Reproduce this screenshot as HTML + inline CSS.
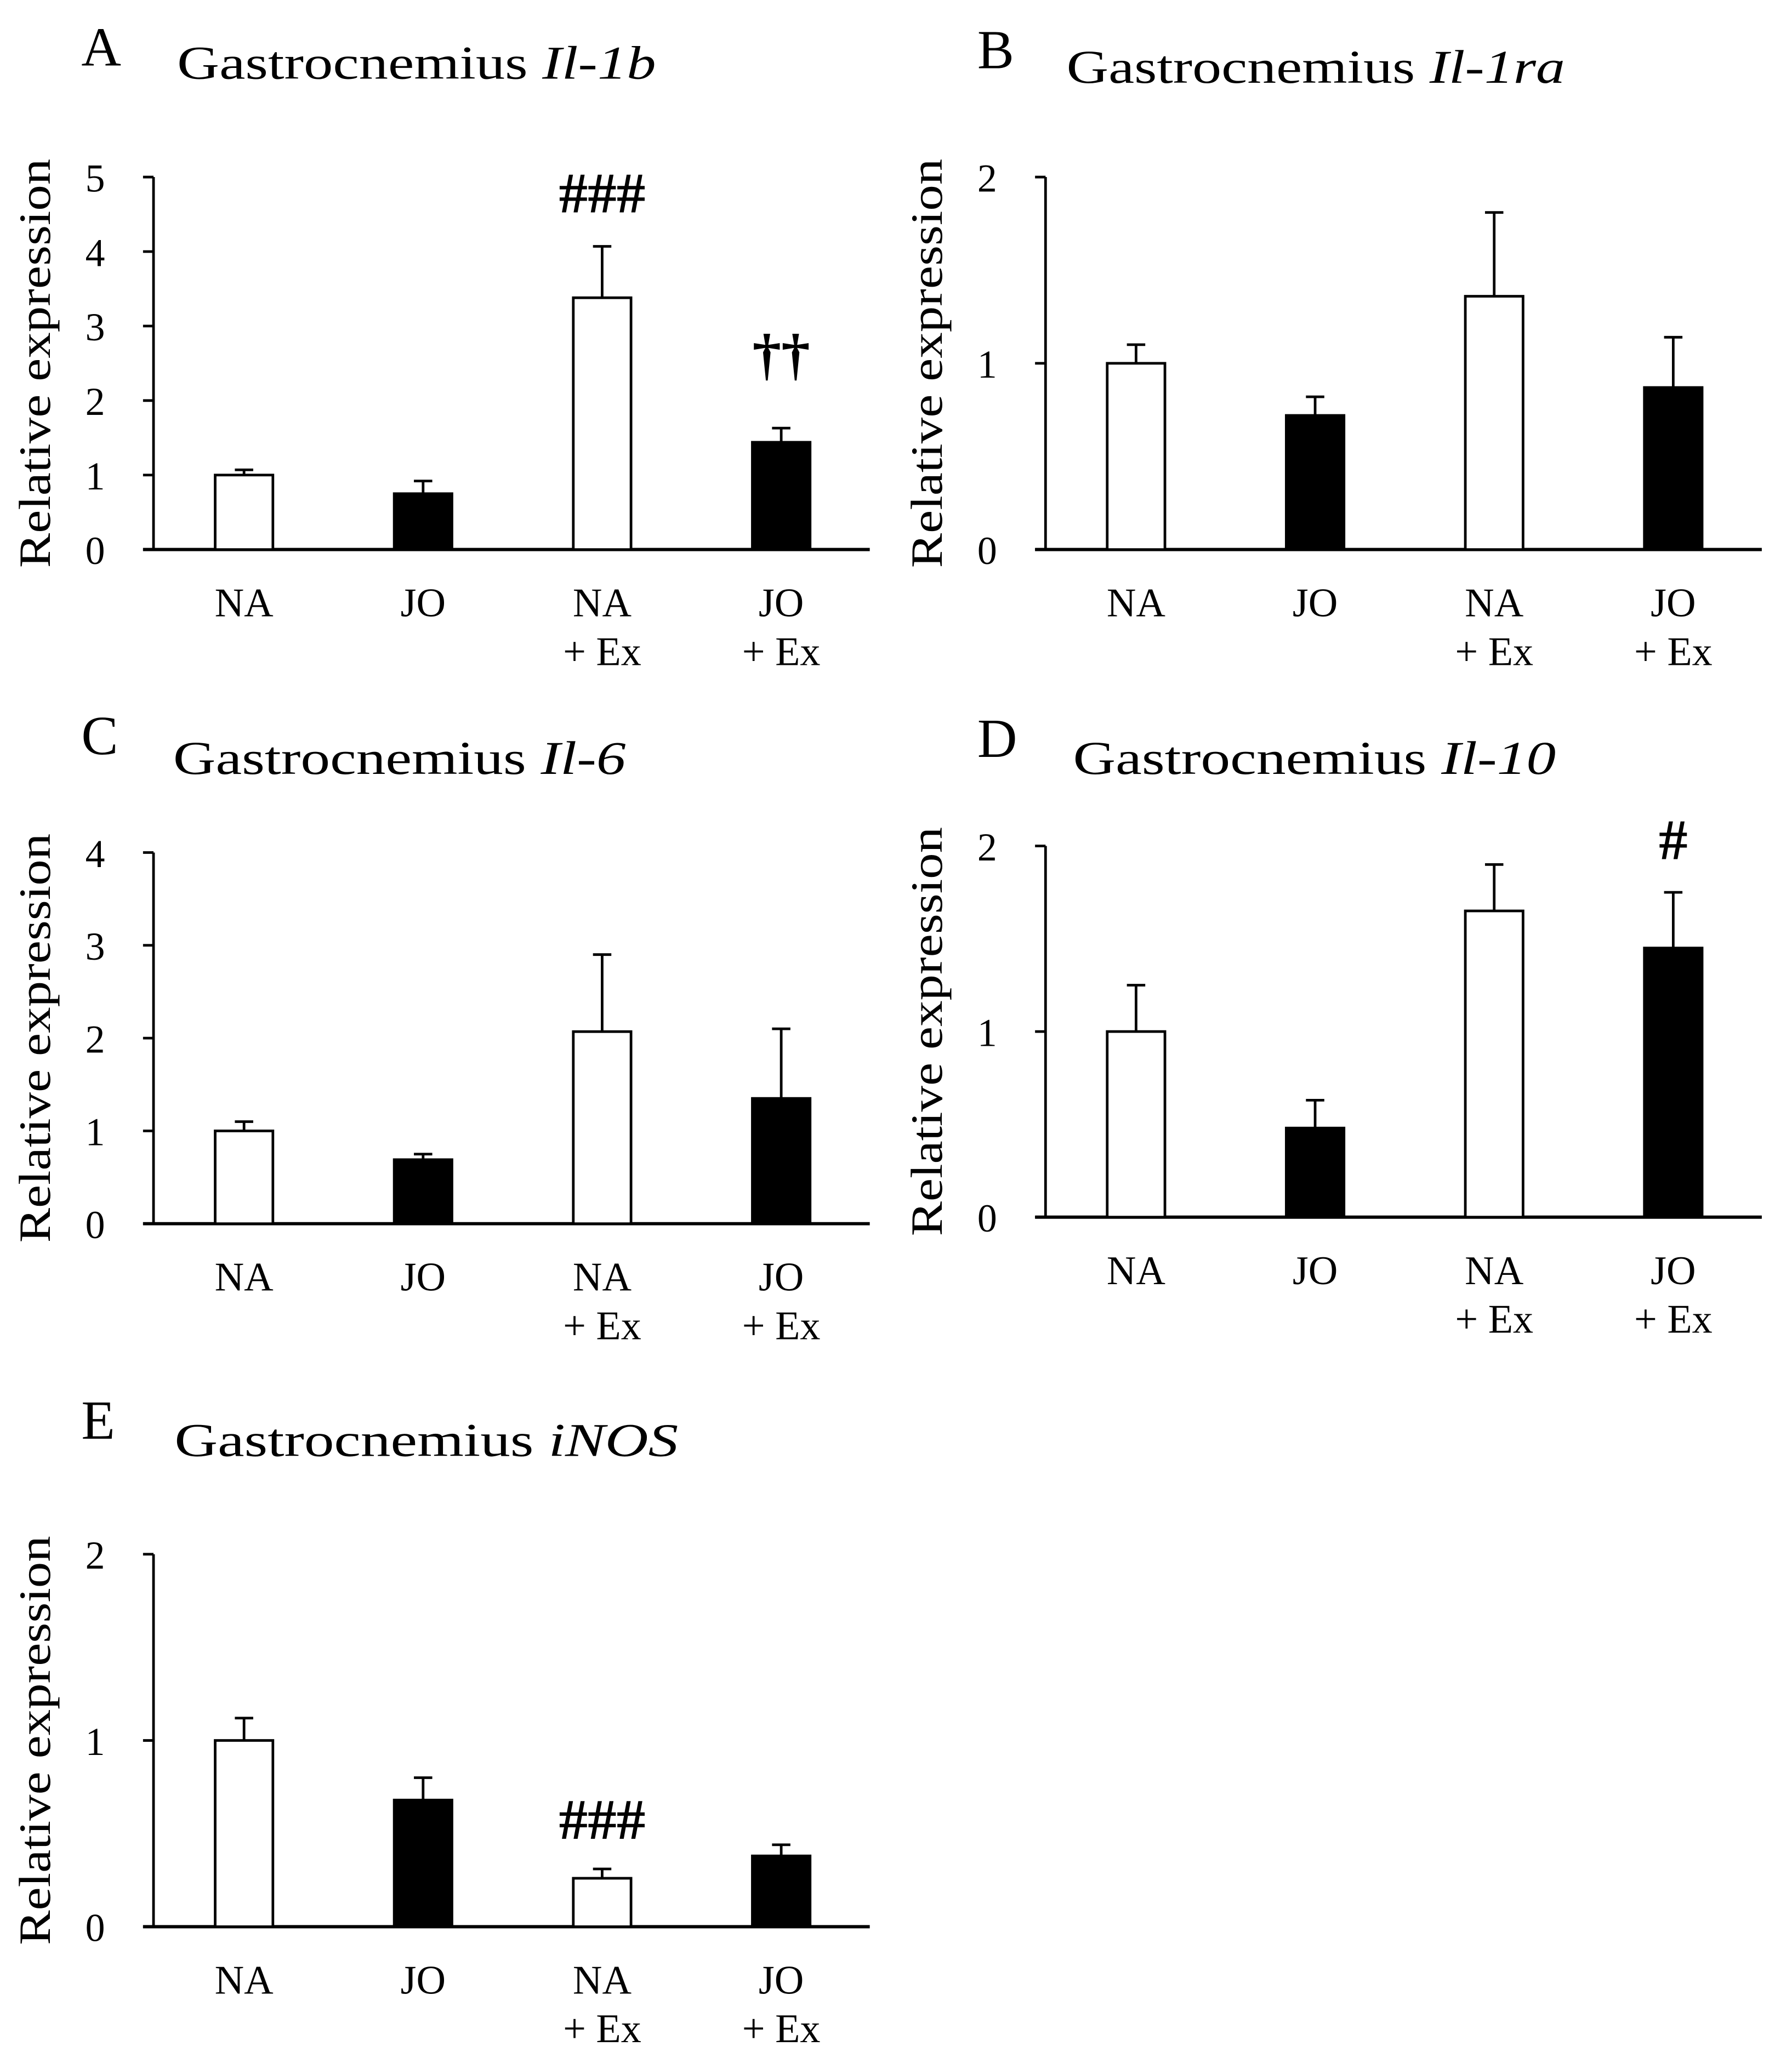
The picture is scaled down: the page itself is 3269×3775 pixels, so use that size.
<!DOCTYPE html>
<html><head><meta charset="utf-8"><style>
html,body{margin:0;padding:0;background:#fff}
svg{display:block}
text{font-family:"Liberation Serif",serif;fill:#000}
</style></head><body>
<svg id="chart" width="3269" height="3775" viewBox="0 0 1366 1577.5" xmlns="http://www.w3.org/2000/svg"></svg>
<script>
const categories = ["NA","JO","NA\n+ Ex","JO\n+ Ex"];
const valuesA = [1.0, 0.75, 3.38, 1.44];
const errorsA = [1.07, 0.92, 4.07, 1.63];
const valuesB = [1.0, 0.72, 1.36, 0.87];
const errorsB = [1.10, 0.82, 1.81, 1.14];
const valuesC = [1.0, 0.69, 2.07, 1.35];
const errorsC = [1.10, 0.75, 2.90, 2.10];
const valuesD = [1.0, 0.48, 1.65, 1.45];
const errorsD = [1.25, 0.63, 1.90, 1.75];
const valuesE = [1.0, 0.68, 0.26, 0.38];
const errorsE = [1.12, 0.80, 0.31, 0.44];
const ticksA = [0,1,2,3,4,5];
const ticksB = [0,1,2];
const ticksC = [0,1,2,3,4];
const ticksD = [0,1,2];
const ticksE = [0,1,2];
const annotA = ["","","###","††"];
const annotD = ["","","","#"];
const annotE = ["","","###",""];

const svg = document.getElementById('chart');
const NS = "http://www.w3.org/2000/svg";
function mk(tag, attrs, parent){
  const e = document.createElementNS(NS, tag);
  for (const k in attrs) e.setAttribute(k, attrs[k]);
  (parent||svg).appendChild(e);
  return e;
}
const panels = [
  {id:'a', letter:'A', gene:'Il-1b', lx:62, ly:50, tx:135, ty:60, tw:365, ax:117, y0:419, yTop:135, ymax:5, ticks:ticksA, vals:valuesA, errs:errorsA, ann:annotA, annY:[0,0,162,285]},
  {id:'b', letter:'B', gene:'Il-1ra', lx:745, ly:52, tx:813, ty:63, tw:380, ax:797, y0:419, yTop:135, ymax:2, ticks:ticksB, vals:valuesB, errs:errorsB, ann:null},
  {id:'c', letter:'C', gene:'Il-6', lx:62, ly:575, tx:132, ty:590, tw:345, ax:117, y0:933, yTop:650, ymax:4, ticks:ticksC, vals:valuesC, errs:errorsC, ann:null},
  {id:'d', letter:'D', gene:'Il-10', lx:745, ly:577, tx:818, ty:590, tw:368, ax:797, y0:928, yTop:645, ymax:2, ticks:ticksD, vals:valuesD, errs:errorsD, ann:annotD, annY:[0,0,0,655]},
  {id:'e', letter:'E', gene:'iNOS', lx:62, ly:1097, tx:133, ty:1110, tw:384, ax:117, y0:1469, yTop:1185, ymax:2, ticks:ticksE, vals:valuesE, errs:errorsE, ann:annotE, annY:[0,0,1402,0]},
];
panels.forEach(p=>{
  const g = mk('g',{});
  
  
  const yS = v => p.y0 - (p.y0-p.yTop)*v/p.ymax;
  const xEnd = p.ax + 546;
  const xS = i => p.ax + 69 + i*136.5;
  const L = mk('text',{x:p.lx,y:p.ly,'font-size':42},g); L.textContent=p.letter;
   
  const T = mk('text',{x:p.tx,y:p.ty,'font-size':36,textLength:p.tw,lengthAdjust:'spacingAndGlyphs'},g);
   
  const t1 = mk('tspan',{},T); t1.textContent='Gastrocnemius ';
  const t2 = mk('tspan',{'font-style':'italic'},T); t2.textContent=p.gene;
  const yc=(p.y0+p.yTop)/2;
  const yx=p.ax-79;
  const YT = mk('text',{x:yx,y:yc,'font-size':34,'text-anchor':'middle',textLength:312,lengthAdjust:'spacingAndGlyphs',transform:`rotate(-90 ${yx} ${yc})`},g);
  YT.textContent='Relative expression';
   
  const ya = mk('line',{x1:p.ax,y1:p.yTop,x2:p.ax,y2:p.y0,stroke:'#000','stroke-width':2},g);
   
  const xa = mk('line',{x1:p.ax-8,y1:p.y0,x2:xEnd,y2:p.y0,stroke:'#000','stroke-width':2.5},g);
   
  p.ticks.forEach(t=>{
    const y=yS(t);
    mk('line',{x1:p.ax-8,y1:y,x2:p.ax,y2:y,stroke:'#000','stroke-width':2},g);
    const tl=mk('text',{x:p.ax-37,y:y+11,'font-size':30,'text-anchor':'end'},g); tl.textContent=t;
     
  });
  categories.forEach((c,i)=>{
    const lines=c.split('\n');
    lines.forEach((s,j)=>{
      const tl=mk('text',{x:xS(i),y:p.y0+51+j*37,'font-size':31,'text-anchor':'middle'},g); tl.textContent=s;
       
    });
    const v=p.vals[i], e=p.errs[i], x=xS(i);
    mk('line',{x1:x,y1:yS(e),x2:x,y2:yS(v),stroke:'#000','stroke-width':2},g);
    mk('line',{x1:x-7,y1:yS(e),x2:x+7,y2:yS(e),stroke:'#000','stroke-width':2},g);
    const b=mk('rect',{x:x-22,y:yS(v),width:44,height:p.y0-yS(v),fill:(i%2? '#000':'#fff'),stroke:'#000','stroke-width':2},g);
     
    if(p.ann && p.ann[i]){
      const a=mk('text',{x:x,y:p.annY[i],'font-size':44,'text-anchor':'middle','font-weight':'bold'},g); a.textContent=p.ann[i];
       
    }
  });
});
</script>
</body></html>
